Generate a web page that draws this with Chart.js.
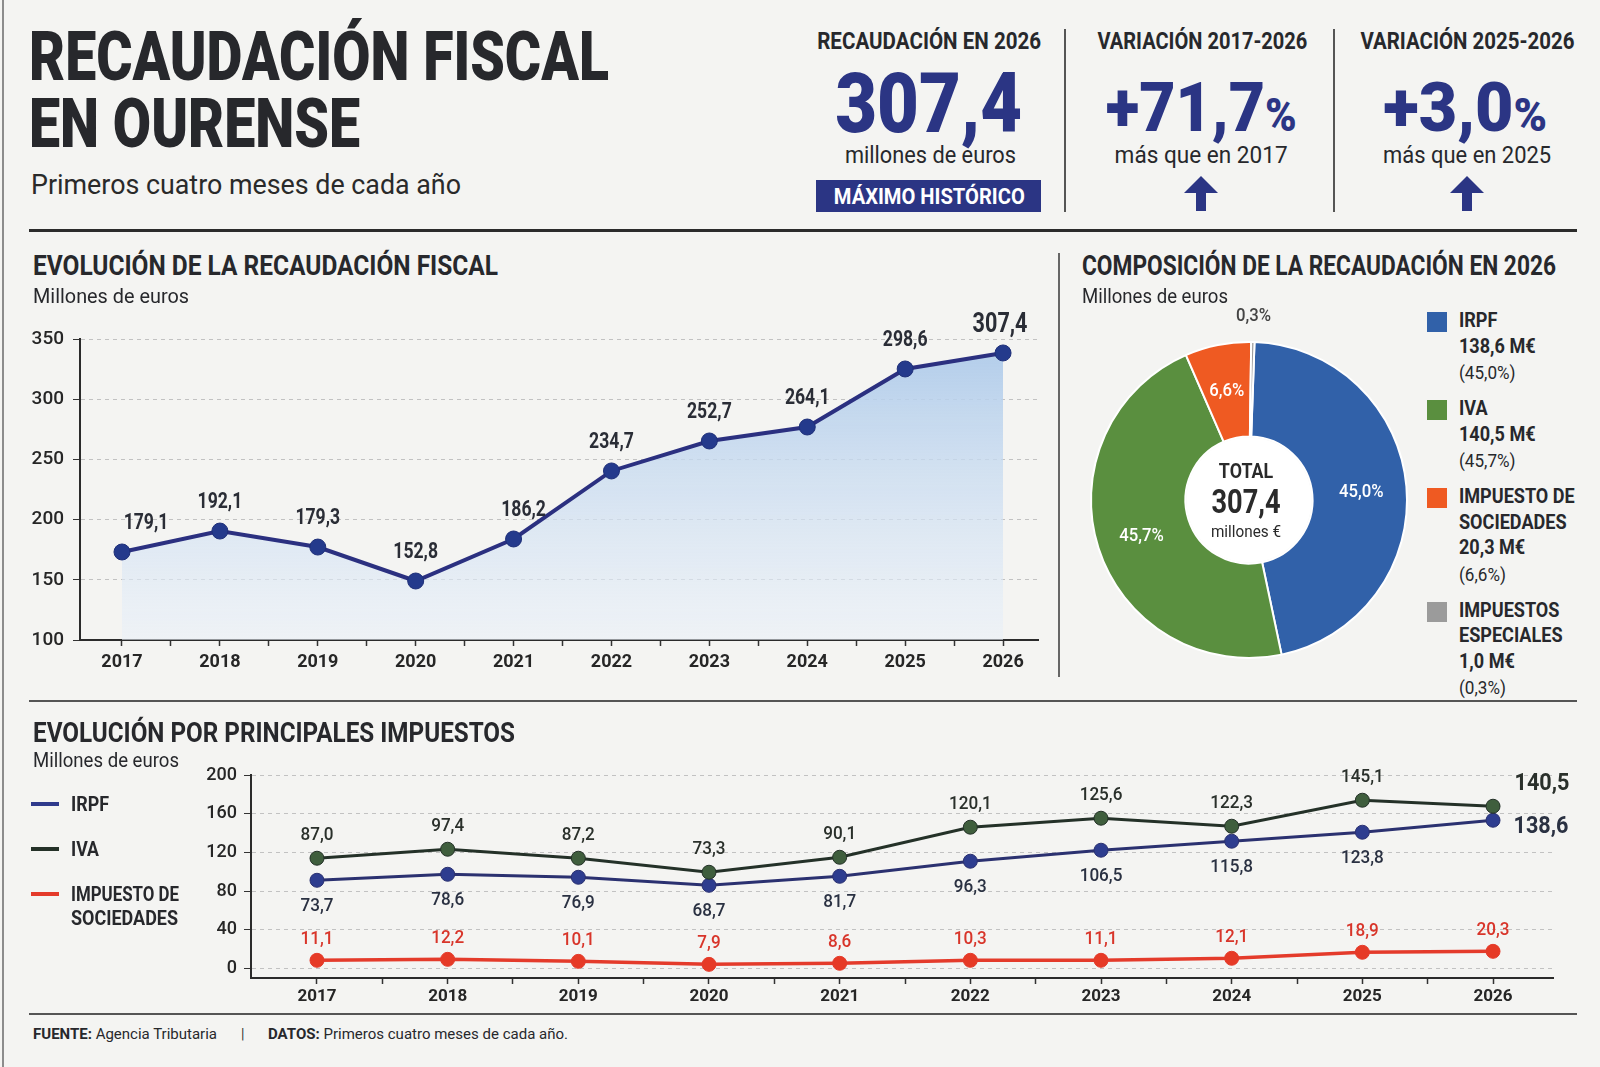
<!DOCTYPE html>
<html>
<head>
<meta charset="utf-8">
<script src="https://cdn.jsdelivr.net/npm/chart.js@4.4.1/dist/chart.umd.min.js"></script>
<style>
html, body { margin: 0; padding: 0; }
body { width: 1600px; height: 1067px; background: #f4f4f2; position: relative; overflow: hidden;
       font-family: Roboto, "Noto Sans", sans-serif; color: #27282c; }
.t { position: absolute; white-space: nowrap; line-height: 1; }
.box { position: absolute; }
.wrap { position: absolute; }
</style>
</head>
<body>
<div class="wrap" style="left:0;top:300px;width:1055px;height:380px"><canvas id="lineChart"></canvas></div>
<div class="wrap" style="left:1079px;top:300px;width:340px;height:400px"><canvas id="donutChart"></canvas></div>
<div class="wrap" style="left:0;top:745px;width:1600px;height:265px"><canvas id="taxChart"></canvas></div>

<script>
// ---- datos ----
const years = [2017, 2018, 2019, 2020, 2021, 2022, 2023, 2024, 2025, 2026];

// recaudación total: cifra rotulada y altura a la que está dibujado cada punto
const totalLabels = [179.1, 192.1, 179.3, 152.8, 186.2, 234.7, 252.7, 264.1, 298.6, 307.4];
const totalDrawn  = [173.1, 190.5, 177.2, 149.0, 183.9, 240.4, 265.3, 276.9, 325.1, 338.4];
const topYTicks = [100, 150, 200, 250, 300, 350];

const irpfLabels = [73.7, 78.6, 76.9, 68.7, 81.7, 96.3, 106.5, 115.8, 123.8, 138.6];
const irpfDrawn  = [91.1, 97.3, 94.2, 85.9, 95.2, 110.8, 122.2, 131.5, 140.8, 153.2];
const ivaLabels  = [87.0, 97.4, 87.2, 73.3, 90.1, 120.1, 125.6, 122.3, 145.1, 140.5];
const ivaDrawn   = [113.9, 123.2, 113.9, 99.4, 114.9, 146.0, 155.3, 147.0, 173.9, 167.7];
const socLabels  = [11.1, 12.2, 10.1, 7.9, 8.6, 10.3, 11.1, 12.1, 18.9, 20.3];
const socDrawn   = [8.3, 9.3, 7.2, 4.1, 5.2, 8.3, 8.3, 10.4, 16.6, 17.6];
const bottomYTicks = [0, 40, 80, 120, 160, 200];

const compNames  = ['IRPF', 'IVA', 'IMPUESTO DE\nSOCIEDADES', 'IMPUESTOS\nESPECIALES'];
const compValues = [138.6, 140.5, 20.3, 1.0];
const compPct    = [45.0, 45.7, 6.6, 0.3];

const kpiTotal = 307.4;
const kpiVar1726 = 71.7;
const kpiVar2526 = 3.0;

// ---- estilos ----
const navy = '#2b3584';
const ink = '#27282c';
const compColors = ['#3161a9', '#5a8f3f', '#ef5a22', '#9b9b9b'];
const irpfColor = '#2f3a8c', ivaColor = '#243128', socColor = '#e43b2b';

const fmt = v => v.toFixed(1).replace('.', ',');

// texto HTML colocado por línea base, comprimido en horizontal (tipo condensada)
function txt(s, x, base, size, opt) {
  opt = opt || {};
  const d = document.createElement('div');
  d.className = 't';
  d.innerHTML = s;
  d.style.fontSize = size + 'px';
  d.style.fontWeight = opt.wt || 700;
  d.style.color = opt.color || ink;
  d.style.top = (base - 0.842 * size) + 'px';
  document.body.appendChild(d);
  const natural = d.getBoundingClientRect().width;
  const k = opt.w ? opt.w / natural : (opt.k || 1);
  const center = opt.align === 'center';
  d.style.left = (center ? x - natural / 2 : x) + 'px';
  d.style.transformOrigin = center ? '50% 0' : '0 0';
  d.style.transform = 'scaleX(' + k + ')';
  return d;
}
function box(x, y, w, h, color) {
  const d = document.createElement('div');
  d.className = 'box';
  d.style.cssText = 'left:' + x + 'px;top:' + y + 'px;width:' + w + 'px;height:' + h + 'px;background:' + color;
  document.body.appendChild(d);
  return d;
}
function arrow(cx, top) {
  const d = document.createElement('div');
  d.className = 'box';
  d.style.cssText = 'left:' + (cx - 17) + 'px;top:' + top + 'px;width:34px;height:35px';
  d.innerHTML = '<svg width="34" height="35"><polygon points="0,17 17,0 34,17 22,17 22,35 12,35 12,17" fill="' + navy + '"/></svg>';
  document.body.appendChild(d);
}

// ---- cabecera ----
box(2, 0, 2, 1067, '#8c8c8c');
txt('RECAUDACIÓN FISCAL', 29, 80, 68, {wt: 900, w: 580});
txt('EN OURENSE', 29, 147, 68, {wt: 900, w: 331});
txt('Primeros cuatro meses de cada año', 31, 195, 27, {wt: 400, w: 430, color: '#2a2a2a'});

txt('RECAUDACIÓN EN 2026', 929, 49, 23, {align: 'center', w: 224});
txt(fmt(kpiTotal), 929, 133, 84, {wt: 900, align: 'center', w: 187, color: navy});
txt('millones de euros', 930, 163, 23, {align: 'center', wt: 400, w: 171});
box(816, 180, 225, 32, navy);
txt('MÁXIMO HISTÓRICO', 929, 205, 22, {align: 'center', w: 191, color: '#ffffff'});

box(1064, 29, 2, 183, '#555');
box(1333, 29, 2, 183, '#555');

txt('VARIACIÓN 2017-2026', 1202, 49, 23, {align: 'center', w: 210});
txt('+' + fmt(kpiVar1726) + '<span style="font-size:47px">%</span>', 1201, 131, 69, {wt: 900, align: 'center', w: 191, color: navy});
txt('más que en 2017', 1201, 163, 23, {align: 'center', wt: 400, w: 173});
arrow(1201, 176);

txt('VARIACIÓN 2025-2026', 1467, 49, 23, {align: 'center', w: 214});
txt('+' + fmt(kpiVar2526) + '<span style="font-size:47px">%</span>', 1465, 131, 69, {wt: 900, align: 'center', w: 164, color: navy});
txt('más que en 2025', 1467, 163, 23, {align: 'center', wt: 400, w: 168});
arrow(1467, 176);

box(29, 229, 1548, 3, '#2b2b2b');

// ---- secciones ----
txt('EVOLUCIÓN DE LA RECAUDACIÓN FISCAL', 33, 276, 27, {w: 465});
txt('Millones de euros', 33, 303, 20, {wt: 400, w: 156});
txt('COMPOSICIÓN DE LA RECAUDACIÓN EN 2026', 1082, 276, 27, {w: 474});
txt('Millones de euros', 1082, 303, 20, {wt: 400, w: 146});
box(1058, 253, 2, 424, '#666');
box(29, 700, 1548, 2, '#555');

txt('EVOLUCIÓN POR PRINCIPALES IMPUESTOS', 33, 743, 27, {w: 482});
txt('Millones de euros', 33, 767, 20, {wt: 400, w: 146});

// leyenda del gráfico inferior
box(31, 802, 28, 4, irpfColor);
txt('IRPF', 71, 811, 20, {w: 38});
box(31, 847, 28, 4, ivaColor);
txt('IVA', 71, 856, 20, {w: 28});
box(31, 892, 28, 4, socColor);
txt('IMPUESTO DE', 71, 901, 20, {w: 108});
txt('SOCIEDADES', 71, 925, 20, {w: 107});

// leyenda de la composición
(function () {
  let base = 328;
  compNames.forEach((name, i) => {
    box(1427, base - 16, 20, 20, compColors[i]);
    const lines = name.split('\n');
    lines.forEach(l => { txt(l, 1459, base, 21, {k: 0.86}); base += 25.5; });
    txt(fmt(compValues[i]) + ' M€', 1459, base, 21, {k: 0.86}); base += 25.5;
    txt('(' + fmt(compPct[i]) + '%)', 1459, base, 19, {wt: 400, k: 0.9});
    base += 37;
  });
})();

// pie
box(29, 1013, 1548, 2, '#555');
txt('<b>FUENTE:</b> Agencia Tributaria', 33, 1039, 14, {wt: 400, w: 184});
txt('|', 241, 1039, 14, {wt: 400, color: '#333'});
txt('<b>DATOS:</b> Primeros cuatro meses de cada año.', 268, 1039, 14, {wt: 400, w: 300});

// ---- Chart.js ----
Chart.defaults.font.family = 'Roboto';
Chart.defaults.color = '#2a2a2a';

function condText(ctx, s, x, y, size, weight, color, k) {
  ctx.save();
  ctx.font = weight + ' ' + size + 'px Roboto';
  ctx.fillStyle = color;
  ctx.textAlign = 'center';
  ctx.textBaseline = 'alphabetic';
  ctx.translate(x, y + 0.355 * size);
  ctx.scale(k, 1);
  ctx.fillText(s, 0, 0);
  ctx.restore();
}

const pointLabels = {
  id: 'pointLabels',
  afterDatasetsDraw(chart, args, opts) {
    const ctx = chart.ctx;
    (opts.sets || []).forEach(set => {
      const meta = chart.getDatasetMeta(set.dataset);
      const n = meta.data.length;
      meta.data.forEach((pt, i) => {
        const last = i === n - 1 && set.last;
        const dx = last ? set.last.dx : ((set.dx && set.dx[i]) || 0);
        const dy = last ? set.last.dy : set.dy;
        const size = last ? set.last.size : set.size;
        const weight = last ? set.last.weight : set.weight;
        condText(ctx, fmt(set.labels[i]), pt.x + dx, pt.y + dy, size, weight, set.color, set.k);
      });
    });
  }
};

function halfYearTicks(scale) {
  const t = [];
  years.forEach((y, i) => { t.push({value: y}); if (i < years.length - 1) t.push({value: y + 0.5}); });
  scale.ticks = t;
}
const yearLabel = v => Number.isInteger(v) ? String(v) : '';

// evolución de la recaudación
new Chart(document.getElementById('lineChart'), {
  type: 'line',
  data: {
    datasets: [{
      data: years.map((y, i) => ({x: y, y: totalDrawn[i]})),
      borderColor: '#2b3080',
      borderWidth: 4,
      pointRadius: 8,
      pointBackgroundColor: '#243a8c',
      pointBorderColor: '#1e2f78',
      pointBorderWidth: 1,
      clip: false,
      fill: 'start',
      backgroundColor: c => {
        const a = c.chart.chartArea;
        if (!a) return 'rgba(200,220,240,0.6)';
        const g = c.chart.ctx.createLinearGradient(0, a.top, 0, a.bottom);
        g.addColorStop(0, 'rgba(172,201,233,0.95)');
        g.addColorStop(1, 'rgba(234,241,249,0.55)');
        return g;
      }
    }]
  },
  options: {
    responsive: true, maintainAspectRatio: false, animation: false, events: [],
    layout: {padding: {top: 39, right: 17, left: 0, bottom: 0}},
    scales: {
      x: {
        type: 'linear', min: 2016.571, max: 2026.357,
        afterBuildTicks: halfYearTicks,
        afterFit: s => { s.height = 40; },
        grid: {drawOnChartArea: false, tickLength: 6, tickColor: '#333', tickWidth: 1.5},
        border: {color: '#2b2b2b', width: 2},
        ticks: {autoSkip: false, maxRotation: 0, padding: 6, callback: yearLabel,
                font: {size: 18, weight: 'bold'}, color: '#262626'}
      },
      y: {
        min: 100, max: 350,
        afterBuildTicks: s => { s.ticks = topYTicks.map(v => ({value: v})); },
        afterFit: s => { s.width = 80; },
        grid: {color: '#c2c2c2', lineWidth: 1, tickLength: 7, tickColor: '#333'},
        border: {color: '#2b2b2b', width: 2, dash: [4, 4]},
        ticks: {padding: 9, font: {size: 19, weight: '500'}, color: '#262626'}
      }
    },
    plugins: {
      legend: {display: false}, tooltip: {enabled: false},
      pointLabels: {sets: [{
        dataset: 0, labels: totalLabels, dy: -31, dx: {0: 24, 4: 10},
        size: 22, weight: 'bold', color: '#2a2d36', k: 0.8,
        last: {dx: -3, dy: -31, size: 27, weight: 'bold'}
      }]}
    }
  },
  plugins: [pointLabels]
});

// composición 2026
const donutText = {
  id: 'donutText',
  afterDatasetsDraw(chart) {
    const ctx = chart.ctx;
    const meta = chart.getDatasetMeta(0);
    const a0 = meta.data[0];
    const cx = a0.x, cy = a0.y, ir = a0.innerRadius, or = a0.outerRadius;
    ctx.save();
    ctx.beginPath();
    ctx.arc(cx, cy, ir - 1, 0, Math.PI * 2);
    ctx.fillStyle = '#ffffff';
    ctx.fill();
    ctx.restore();
    meta.data.forEach((arc, i) => {
      const mid = (arc.startAngle + arc.endAngle) / 2;
      const small = compPct[i] < 1;
      const r = small ? or + 28 : (ir + or) / 2 + 2;
      condText(ctx, fmt(compPct[i]) + '%', cx + Math.cos(mid) * r, cy + Math.sin(mid) * r,
               19, '500', small ? '#444' : '#ffffff', 0.88);
    });
    condText(ctx, 'TOTAL', cx - 3, cy - 29, 21, 'bold', '#2a2a2a', 0.85);
    condText(ctx, fmt(kpiTotal), cx - 3, cy + 1, 34, 'bold', '#2a2a2a', 0.8);
    condText(ctx, 'millones €', cx - 3, cy + 31, 17, '400', '#2a2a2a', 0.9);
  }
};

new Chart(document.getElementById('donutChart'), {
  type: 'doughnut',
  data: {
    labels: compNames,
    datasets: [{
      data: compValues,
      backgroundColor: compColors,
      borderColor: '#ffffff',
      borderWidth: 2
    }]
  },
  options: {
    responsive: true, maintainAspectRatio: false, animation: false, events: [],
    rotation: 2, radius: 158, cutout: 68,
    layout: {padding: 0},
    plugins: {legend: {display: false}, tooltip: {enabled: false}}
  },
  plugins: [donutText]
});

// evolución por impuestos
function taxSet(values, line, point, width) {
  return {
    data: years.map((y, i) => ({x: y, y: values[i]})),
    borderColor: line, borderWidth: width,
    pointRadius: 7, pointBackgroundColor: point, pointBorderColor: line, pointBorderWidth: 1,
    clip: false, fill: false
  };
}

new Chart(document.getElementById('taxChart'), {
  type: 'line',
  data: {
    datasets: [
      taxSet(ivaDrawn, ivaColor, '#3f5e3d', 3),
      taxSet(irpfDrawn, '#2b3170', '#2e3d8f', 3),
      taxSet(socDrawn, socColor, '#e63a26', 3.5)
    ]
  },
  options: {
    responsive: true, maintainAspectRatio: false, animation: false, events: [],
    layout: {padding: {top: 30, right: 47, left: 0, bottom: 0}},
    scales: {
      x: {
        type: 'linear', min: 2016.495, max: 2026.459,
        afterBuildTicks: halfYearTicks,
        afterFit: s => { s.height = 32; },
        grid: {drawOnChartArea: false, tickLength: 6, tickColor: '#333', tickWidth: 1.5},
        border: {color: '#2b2b2b', width: 2},
        ticks: {autoSkip: false, maxRotation: 0, padding: 3, callback: yearLabel,
                font: {size: 17, weight: 'bold'}, color: '#262626'}
      },
      y: {
        min: -10, max: 200,
        afterBuildTicks: s => { s.ticks = bottomYTicks.map(v => ({value: v})); },
        afterFit: s => { s.width = 251; },
        grid: {color: '#c2c2c2', lineWidth: 1, tickLength: 7, tickColor: '#333'},
        border: {color: '#2b2b2b', width: 2, dash: [4, 4]},
        ticks: {padding: 7, font: {size: 18, weight: '500'}, color: '#262626'}
      }
    },
    plugins: {
      legend: {display: false}, tooltip: {enabled: false},
      pointLabels: {sets: [
        {dataset: 0, labels: ivaLabels, dy: -25, size: 19, weight: '500', color: '#2a302b', k: 0.9,
         last: {dx: 49, dy: -25, size: 24, weight: 'bold'}},
        {dataset: 1, labels: irpfLabels, dy: 24, size: 19, weight: '500', color: '#2a3142', k: 0.9,
         last: {dx: 48, dy: 4, size: 24, weight: 'bold'}},
        {dataset: 2, labels: socLabels, dy: -23, size: 19, weight: '500', color: '#d8352a', k: 0.9}
      ]}
    }
  },
  plugins: [pointLabels]
});
</script>
</body>
</html>
